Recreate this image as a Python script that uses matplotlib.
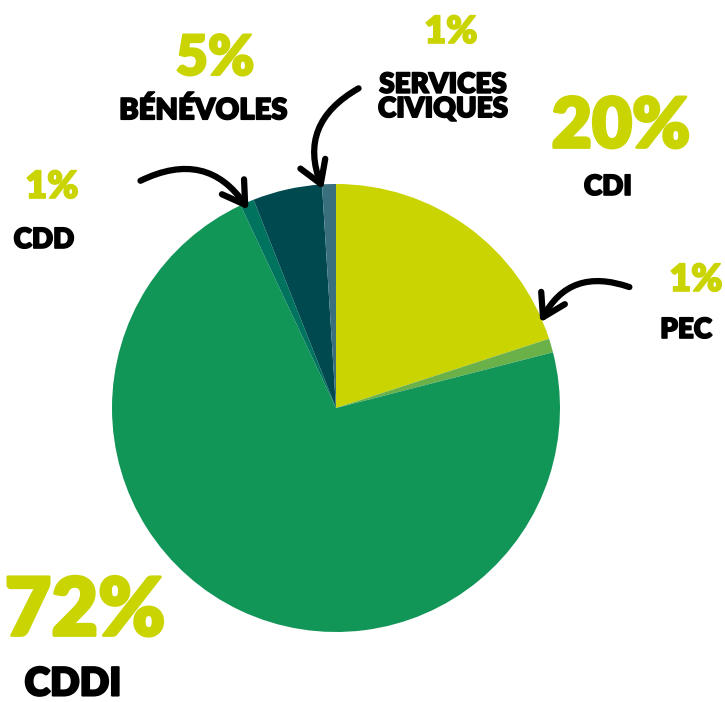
import matplotlib
matplotlib.use("Agg")
import matplotlib.pyplot as plt
import matplotlib.patheffects as pe
from matplotlib.patches import FancyArrowPatch

# Données
labels = ["CDI", "PEC", "CDDI", "CDD", "BÉNÉVOLES", "SERVICES\nCIVIQUES"]
values = [20, 1, 72, 1, 5, 1]
colors = ["#c9d400", "#6bb14a", "#129658", "#00735e", "#004a4f", "#3a6f7d"]
pct_labels = ["20%", "1%", "72%", "1%", "5%", "1%"]

YELLOW = "#c9d400"
FONT = "Lato"

W, H = 725, 702
fig = plt.figure(figsize=(W / 100, H / 100), dpi=100)
ax = fig.add_axes([0, 0, 1, 1])

# Camembert (coordonnées en pixels, y vers le haut)
ax.pie(values, colors=colors, startangle=90, counterclock=False,
       center=(336, H - 408), radius=224, frame=True,
       wedgeprops=dict(linewidth=0))
ax.set_xlim(0, W)
ax.set_ylim(0, H)
ax.set_aspect("equal")
ax.axis("off")


def txt(x, y, s, color, size, stroke=1.2):
    ax.text(x, H - y, s, color=color, fontsize=size, fontweight="heavy",
            family=FONT, ha="center", va="center", linespacing=0.92,
            path_effects=[pe.withStroke(linewidth=stroke, foreground=color)])


# pourcentages
txt(621, 128, pct_labels[0], YELLOW, 50, 2)
txt(696, 280, pct_labels[1], YELLOW, 27)
txt(85, 612, pct_labels[2], YELLOW, 58, 2)
txt(52, 187, pct_labels[3], YELLOW, 27)
txt(215, 58, pct_labels[4], YELLOW, 40, 1.5)
txt(451, 32, pct_labels[5], YELLOW, 27)

# noms
txt(608, 187, labels[0], "black", 20)
txt(686, 330, labels[1], "black", 20)
txt(73, 684, labels[2], "black", 28, 1.5)
txt(44, 240, labels[3], "black", 20)
txt(203, 111, labels[4], "black", 21)
txt(443, 97, labels[5], "black", 20)


def arrow(x0, y0, x1, y1, rad):
    a = FancyArrowPatch((x0, H - y0), (x1, H - y1),
                        connectionstyle=f"arc3,rad={rad}",
                        arrowstyle="->,head_length=1.3,head_width=0.8",
                        lw=4.5, color="black", capstyle="round",
                        joinstyle="round", mutation_scale=12)
    ax.add_patch(a)


arrow(138, 182, 250, 212, -0.45)
arrow(361, 87, 324, 192, 0.45)
arrow(632, 288, 539, 325, 0.45)

fig.savefig("out.png", dpi=100)
